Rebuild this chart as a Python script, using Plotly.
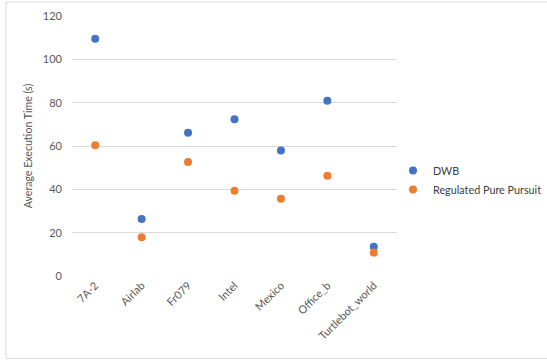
import plotly.graph_objects as go

categories = ["7A-2", "Airlab", "Fr079", "Intel", "Mexico", "Office_b", "Turtlebot_world"]
dwb = [109.5, 26.3, 66.1, 72.3, 57.9, 80.9, 13.5]
rpp = [60.4, 17.9, 52.6, 39.4, 35.7, 46.3, 10.8]
series_names = ["DWB", "Regulated Pure Pursuit"]
colors = ["#4472C4", "#ED7D31"]
y_ticks = [0, 20, 40, 60, 80, 100, 120]

W, H = 547, 360
ml, mr, mt, mb = 72, 150, 16, 84
pw, ph = W - ml - mr, H - mt - mb

fig = go.Figure()
for name, vals, c in zip(series_names, [dwb, rpp], colors):
    fig.add_trace(go.Scatter(x=categories, y=vals, mode="markers", name=name,
                             marker=dict(color=c, size=8, line=dict(width=0))))

font = "Lato, Liberation Sans, Arial, sans-serif"
fig.update_layout(
    width=W, height=H,
    margin=dict(l=ml, r=mr, t=mt, b=mb, autoexpand=False),
    paper_bgcolor="white", plot_bgcolor="white",
    font=dict(family=font, size=11, color="#595959"),
    xaxis=dict(type="category", tickangle=-45, showgrid=False, zeroline=False,
               showline=False, ticks="", tickfont=dict(size=11, color="#595959"),
               range=[-0.5, 6.5], automargin=False),
    yaxis=dict(range=[0, 120], tickvals=y_ticks, showgrid=True, gridcolor="#D9D9D9",
               gridwidth=1, zeroline=False, showline=False, ticks="",
               tickfont=dict(size=11, color="#595959"), automargin=False,
               ticklabelstandoff=9,
               title=dict(text="Average Execution Time (s)", font=dict(size=10.6, color="#595959"),
                          standoff=8)),
    legend=dict(x=(393 - ml) / pw, y=(276 - 156) / ph, xanchor="left", yanchor="top",
                bgcolor="rgba(0,0,0,0)", font=dict(size=10.8, color="#404040"),
                itemsizing="trace", tracegroupgap=4, itemwidth=30),
    showlegend=True,
)

# outer chart border
fig.add_shape(type="rect", xref="paper", yref="paper",
              x0=(6 - ml) / pw, x1=(560 - ml) / pw,
              y0=(H - mb - 358.5) / ph, y1=(H - mb - 2) / ph,
              line=dict(color="#D9D9D9", width=1), layer="below")

fig.write_html("out.html")
